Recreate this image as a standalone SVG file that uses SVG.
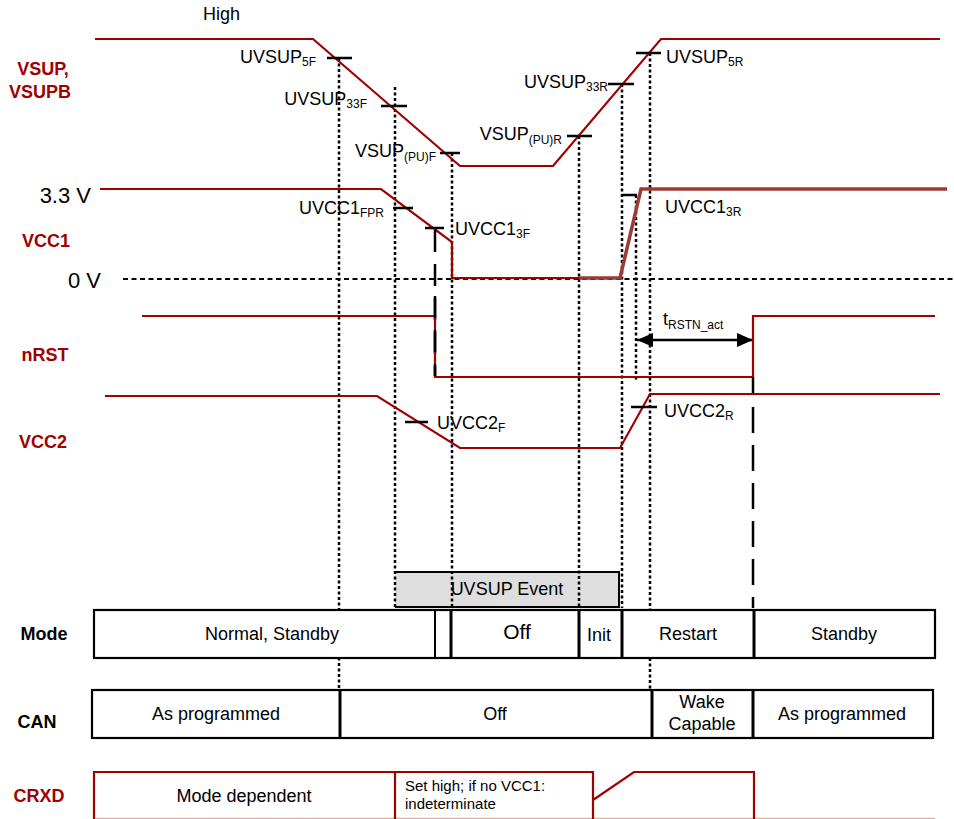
<svg xmlns="http://www.w3.org/2000/svg" width="954" height="819" viewBox="0 0 954 819">
<defs>
<style>
.sig{fill:none;stroke:#a00000;stroke-width:2.2;stroke-linejoin:miter}
.sig2{fill:none;stroke:#9c3a35;stroke-width:3.5}
.tick{stroke:#000;stroke-width:2.5;fill:none}
.dot{stroke:#000;stroke-width:2.5;stroke-dasharray:3 2.5;fill:none}
.dash{stroke:#000;stroke-width:2.5;stroke-dasharray:22 12;fill:none}
.t{font-family:"Liberation Sans",Arial,sans-serif;font-size:18px;fill:#000}
.s{font-size:12px}
.sl{font-family:"Liberation Sans",Arial,sans-serif;font-size:18px;font-weight:bold;fill:#a00000;text-anchor:middle}
.bl{font-family:"Liberation Sans",Arial,sans-serif;font-size:18px;font-weight:bold;fill:#000;text-anchor:middle}
.c{text-anchor:middle}
.e{text-anchor:end}
.box{fill:#fff;stroke:#000;stroke-width:2.2}
.div{stroke:#000;stroke-width:3;fill:none}
</style>
<marker id="ah" viewBox="0 0 16 14" refX="16" refY="7" markerWidth="16" markerHeight="14" markerUnits="userSpaceOnUse" orient="auto-start-reverse">
<path d="M0 0 L16 7 L0 14 Z" fill="#000"/>
</marker>
</defs>
<rect width="954" height="819" fill="#fff"/>

<!-- row labels -->
<g id="labels">
<text class="t" x="203" y="20">High</text>
<text class="sl" x="43" y="75">VSUP,</text>
<text class="sl" x="40" y="98">VSUPB</text>
<text class="t" x="91" y="203" style="font-size:22px" text-anchor="end">3.3 V</text>
<text class="sl" x="46" y="247">VCC1</text>
<text class="t" x="101" y="288" style="font-size:22px" text-anchor="end">0 V</text>
<text class="sl" x="45" y="361">nRST</text>
<text class="sl" x="43" y="448">VCC2</text>
<text class="bl" x="44" y="640">Mode</text>
<text class="bl" x="37" y="728">CAN</text>
<text class="sl" x="39" y="802">CRXD</text>
</g>

<!-- event box (under guides) -->
<g id="uvsup-event">
<rect x="395" y="572" width="224" height="35" fill="#dedede"/>
<path d="M395 572 H619 V607 H395" fill="none" stroke="#000" stroke-width="2"/>
<text class="t c" x="507" y="595">UVSUP Event</text>
</g>

<!-- guides / connectors -->
<g id="connectors">
<path class="dot" d="M123 279 H954" style="stroke-width:2;stroke-dasharray:5 3.5"/>
<path class="dot" d="M339 58 V690"/>
<path class="dot" d="M395 87 V607"/>
<path class="dot" d="M452 153 V608"/>
<path class="dot" d="M579 136 V608"/>
<path class="dot" d="M622 84 V608"/>
<path class="dot" d="M636 195 V380"/>
<path class="dot" d="M650 53 V690"/>
<line x1="637" y1="340" x2="753" y2="340" stroke="#000" stroke-width="2.5" marker-start="url(#ah)" marker-end="url(#ah)"/>
<text class="t" x="663" y="325">t<tspan class="s" dy="4">RSTN_act</tspan></text>
</g>

<!-- VSUP -->
<g id="vsup">
<path class="sig" d="M95 39 H313 L460 166 H553 L661 39 H940"/>
<path class="tick" d="M327 58 H352 M381 106 H407 M440 153 H460 M567 136 H592 M608 84 H634 M636 53 H661"/>
<text class="t e" x="316" y="63">UVSUP<tspan class="s" dy="3">5F</tspan></text>
<text class="t e" x="367" y="105">UVSUP<tspan class="s" dy="3">33F</tspan></text>
<text class="t e" x="436" y="157">VSUP<tspan class="s" dy="4">(PU)F</tspan></text>
<text class="t e" x="562" y="140">VSUP<tspan class="s" dy="4">(PU)R</tspan></text>
<text class="t e" x="608" y="88">UVSUP<tspan class="s" dy="3">33R</tspan></text>
<text class="t" x="666" y="63">UVSUP<tspan class="s" dy="3">5R</tspan></text>
</g>

<!-- VCC1 -->
<g id="vcc1">
<path class="sig" d="M100 189 H381 L452 242 V278 H580"/>
<path class="sig2" d="M579 278 H620 L641 189 H947"/>
<path class="tick" d="M393 208 H413 M425 228 H444 M622 195 H637"/>
<path class="dash" d="M435 230 V376"/>
<text class="t e" x="384" y="214">UVCC1<tspan class="s" dy="3">FPR</tspan></text>
<text class="t" x="455" y="235">UVCC1<tspan class="s" dy="3">3F</tspan></text>
<text class="t" x="665" y="213">UVCC1<tspan class="s" dy="3">3R</tspan></text>
</g>

<!-- nRST -->
<g id="nrst">
<path class="sig" d="M142 316 H435 V377 H753 V316 H935"/>
<path class="dash" d="M435 296 V376"/>
<path d="M753 377 V395" stroke="#000" stroke-width="2.5"/>
<path class="dash" d="M753 407 V608" style="stroke-dasharray:26 12"/>
</g>

<!-- VCC2 -->
<g id="vcc2">
<path class="sig" d="M105 396 H377 L460 448 H620 L650 394 H940"/>
<path class="tick" d="M405 422 H428 M631 407 H657"/>
<text class="t" x="437" y="429">UVCC2<tspan class="s" dy="3">F</tspan></text>
<text class="t" x="664" y="417">UVCC2<tspan class="s" dy="3">R</tspan></text>
</g>

<!-- Mode row -->
<g id="mode">
<rect class="box" x="94" y="610" width="841" height="48"/>
<path d="M435 610 V658" stroke="#000" stroke-width="2"/>
<path class="div" d="M451 610 V658 M579 610 V658 M622 610 V658 M754 610 V658"/>
<text class="t c" x="272" y="640">Normal, Standby</text>
<text class="t c" x="517" y="639" style="font-size:21px">Off</text>
<text class="t c" x="599" y="641">Init</text>
<text class="t c" x="688" y="640">Restart</text>
<text class="t c" x="844" y="640">Standby</text>
</g>

<!-- CAN row -->
<g id="can">
<rect class="box" x="92" y="690" width="841" height="48"/>
<path class="div" d="M340 690 V738 M652 690 V738 M753 690 V738"/>
<text class="t c" x="216" y="720">As programmed</text>
<text class="t c" x="495" y="720">Off</text>
<text class="t c" x="702" y="708">Wake</text>
<text class="t c" x="702" y="730">Capable</text>
<text class="t c" x="842" y="720">As programmed</text>
</g>

<!-- CRXD row -->
<g id="crxd">
<path d="M94 818.5 H935" stroke="#e8a8a8" stroke-width="1.5" fill="none"/>
<path class="sig" d="M94 819 V772 H593 V819 M395 772 V819 M593 800 L634 772 H754 V819"/>
<text class="t c" x="244" y="802">Mode dependent</text>
<text class="t" x="405" y="791" style="font-size:15px">Set high; if no VCC1:</text>
<text class="t" x="405" y="809" style="font-size:15px">indeterminate</text>
</g>
</svg>
